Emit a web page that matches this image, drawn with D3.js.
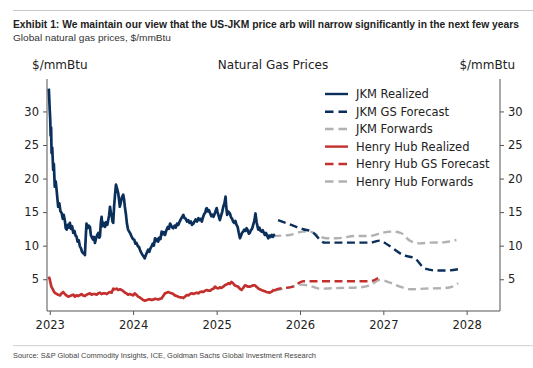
<!DOCTYPE html>
<html><head><meta charset="utf-8">
<script src="https://cdn.jsdelivr.net/npm/d3@7"></script>
<style>
html,body{margin:0;padding:0;background:#fff;}
svg{display:block;}
.narrow{font-family:"Liberation Sans Narrow","Arial Narrow",sans-serif;}
.dj{font-family:"DejaVu Sans",sans-serif;}
</style></head><body>
<svg id="c" width="533" height="368"></svg>
<script>
// ---------- data ----------
const jkmRealized = [
["2022-12-28",33.4],["2023-01-01",30.2],["2023-01-03",28.9],["2023-01-05",26.4],["2023-01-07",27.6],["2023-01-09",23.8],["2023-01-12",24.6],
["2023-01-16",21.3],["2023-01-19",22.2],["2023-01-23",18.8],["2023-01-27",19.6],["2023-01-31",18.3],["2023-02-03",17.2],["2023-02-07",15.8],
["2023-02-12",16.3],["2023-02-17",15.1],["2023-02-22",14.9],["2023-02-27",14.0],["2023-03-03",14.6],["2023-03-08",13.8],["2023-03-12",12.6],
["2023-03-16",12.4],["2023-03-21",13.1],["2023-03-25",12.7],["2023-03-30",13.4],["2023-04-04",12.5],["2023-04-09",12.9],["2023-04-14",11.9],
["2023-04-19",12.2],["2023-04-24",11.5],["2023-04-28",11.4],["2023-05-03",10.6],["2023-05-08",10.8],["2023-05-13",9.9],["2023-05-18",9.6],
["2023-05-22",9.1],["2023-05-27",8.9],["2023-06-01",8.8],["2023-06-04",8.6],["2023-06-08",11.5],["2023-06-11",13.3],["2023-06-15",12.6],
["2023-06-20",13.0],["2023-06-26",12.8],["2023-06-30",11.6],["2023-07-05",11.2],["2023-07-10",10.9],["2023-07-14",11.3],["2023-07-18",10.4],
["2023-07-23",11.1],["2023-07-28",11.6],["2023-08-02",11.9],["2023-08-06",11.2],["2023-08-09",11.4],["2023-08-13",13.5],["2023-08-16",14.3],
["2023-08-20",12.9],["2023-08-25",13.4],["2023-08-31",12.8],["2023-09-05",13.5],["2023-09-10",13.1],["2023-09-14",13.8],["2023-09-18",14.5],
["2023-09-22",15.8],["2023-09-26",14.8],["2023-09-29",14.6],["2023-10-03",13.6],["2023-10-06",13.4],["2023-10-10",15.9],["2023-10-14",17.6],
["2023-10-18",19.1],["2023-10-22",18.6],["2023-10-28",17.8],["2023-11-01",16.7],["2023-11-04",15.8],["2023-11-08",16.4],["2023-11-13",17.2],
["2023-11-19",17.6],["2023-11-23",16.8],["2023-11-26",15.8],["2023-12-01",14.6],["2023-12-05",13.3],["2023-12-10",12.4],["2023-12-15",12.1],
["2023-12-20",11.8],["2023-12-25",11.4],["2023-12-31",11.0],["2024-01-06",10.9],["2024-01-11",10.3],["2024-01-16",10.4],["2024-01-22",9.9],
["2024-01-27",9.8],["2024-01-31",9.4],["2024-02-05",9.0],["2024-02-10",8.7],["2024-02-16",8.4],["2024-02-21",8.1],["2024-02-26",8.6],
["2024-03-02",9.0],["2024-03-07",9.4],["2024-03-12",9.1],["2024-03-17",9.6],["2024-03-22",9.9],["2024-03-27",10.3],["2024-04-01",10.0],
["2024-04-06",11.1],["2024-04-11",10.7],["2024-04-16",11.0],["2024-04-20",10.6],["2024-04-25",11.2],["2024-04-30",11.0],["2024-05-05",12.1],
["2024-05-10",11.7],["2024-05-15",12.0],["2024-05-20",11.6],["2024-05-26",12.3],["2024-06-01",12.8],["2024-06-06",12.5],["2024-06-11",13.3],
["2024-06-16",13.0],["2024-06-21",12.7],["2024-06-25",12.6],["2024-07-01",13.0],["2024-07-06",12.7],["2024-07-12",13.3],["2024-07-17",13.1],
["2024-07-23",13.6],["2024-07-29",14.0],["2024-08-03",14.3],["2024-08-08",14.6],["2024-08-13",14.1],["2024-08-19",14.0],["2024-08-24",13.6],
["2024-08-30",13.8],["2024-09-04",13.4],["2024-09-10",13.6],["2024-09-15",13.1],["2024-09-21",13.3],["2024-09-26",13.6],["2024-10-01",13.9],
["2024-10-07",13.6],["2024-10-13",14.1],["2024-10-18",13.8],["2024-10-23",14.0],["2024-10-28",13.6],["2024-11-02",14.2],["2024-11-07",14.7],
["2024-11-12",14.9],["2024-11-16",15.5],["2024-11-19",15.6],["2024-11-23",15.1],["2024-11-28",15.3],["2024-12-04",14.8],["2024-12-09",14.4],
["2024-12-14",14.6],["2024-12-18",14.3],["2024-12-23",14.7],["2024-12-28",15.2],["2025-01-01",15.6],["2025-01-05",15.0],["2025-01-10",14.4],
["2025-01-15",13.8],["2025-01-20",14.4],["2025-01-25",15.0],["2025-01-30",15.8],["2025-02-04",16.3],["2025-02-09",17.3],["2025-02-12",15.8],
["2025-02-16",14.6],["2025-02-21",15.1],["2025-02-25",14.9],["2025-02-28",14.8],["2025-03-05",14.2],["2025-03-10",14.0],["2025-03-14",13.6],
["2025-03-19",13.4],["2025-03-24",13.7],["2025-03-29",13.1],["2025-04-03",12.8],["2025-04-08",11.9],["2025-04-13",11.1],["2025-04-17",11.4],
["2025-04-22",11.9],["2025-04-27",12.1],["2025-05-02",12.4],["2025-05-07",12.2],["2025-05-12",12.6],["2025-05-17",12.3],["2025-05-22",11.8],
["2025-05-26",11.9],["2025-05-31",12.3],["2025-06-05",12.5],["2025-06-10",13.1],["2025-06-15",13.7],["2025-06-20",14.8],["2025-06-25",13.5],
["2025-07-02",12.4],["2025-07-07",12.7],["2025-07-12",12.2],["2025-07-17",12.1],["2025-07-22",12.3],["2025-07-27",11.9],["2025-07-31",11.6],
["2025-08-05",11.9],["2025-08-10",11.5],["2025-08-15",11.1],["2025-08-20",11.5],["2025-08-25",11.3],["2025-08-30",11.6],["2025-09-04",11.3],
["2025-09-09",11.6],["2025-09-13",11.7]
];
const hhRealized = [
["2022-12-28",5.4],["2023-01-01",5.0],["2023-01-04",4.5],["2023-01-08",3.9],["2023-01-13",3.6],["2023-01-20",3.1],["2023-01-27",2.9],
["2023-02-07",2.7],["2023-02-15",2.6],["2023-02-22",2.9],["2023-03-01",3.1],["2023-03-08",2.8],["2023-03-15",2.6],["2023-03-23",2.4],
["2023-03-31",2.5],["2023-04-07",2.6],["2023-04-14",2.7],["2023-04-21",2.4],["2023-04-28",2.6],["2023-05-05",2.5],["2023-05-12",2.6],
["2023-05-20",2.8],["2023-05-27",2.6],["2023-06-04",2.5],["2023-06-11",2.7],["2023-06-18",2.8],["2023-06-26",2.9],["2023-07-03",2.7],
["2023-07-10",2.8],["2023-07-18",2.8],["2023-07-25",2.7],["2023-08-02",2.9],["2023-08-09",3.0],["2023-08-16",2.8],["2023-08-24",2.9],
["2023-08-31",2.9],["2023-09-08",2.8],["2023-09-15",3.0],["2023-09-22",3.1],["2023-09-29",3.0],["2023-10-06",3.6],["2023-10-13",3.5],
["2023-10-21",3.6],["2023-10-28",3.4],["2023-11-05",3.5],["2023-11-12",3.4],["2023-11-20",3.2],["2023-11-27",3.0],["2023-12-03",2.9],
["2023-12-10",2.7],["2023-12-18",2.8],["2023-12-25",2.7],["2024-01-01",2.6],["2024-01-08",2.9],["2024-01-15",2.7],["2024-01-23",2.4],
["2024-01-30",2.3],["2024-02-07",2.1],["2024-02-14",1.9],["2024-02-22",1.8],["2024-03-01",1.9],["2024-03-08",2.0],["2024-03-15",2.0],
["2024-03-23",1.9],["2024-03-31",2.0],["2024-04-07",2.1],["2024-04-13",2.05],["2024-04-21",2.0],["2024-04-28",2.1],["2024-05-05",2.15],
["2024-05-12",2.5],["2024-05-20",2.9],["2024-05-27",3.0],["2024-06-03",3.1],["2024-06-10",3.0],["2024-06-18",2.9],["2024-06-25",2.8],
["2024-07-02",2.6],["2024-07-10",2.5],["2024-07-17",2.4],["2024-07-24",2.3],["2024-08-01",2.3],["2024-08-08",2.2],["2024-08-15",2.4],
["2024-08-23",2.65],["2024-08-30",2.6],["2024-09-07",2.8],["2024-09-14",2.9],["2024-09-21",2.8],["2024-09-29",2.9],["2024-10-06",3.0],
["2024-10-13",2.9],["2024-10-20",3.1],["2024-10-28",3.15],["2024-11-04",3.1],["2024-11-11",3.3],["2024-11-19",3.4],["2024-11-26",3.3],
["2024-12-04",3.3],["2024-12-11",3.5],["2024-12-18",3.6],["2024-12-25",3.9],["2025-01-01",3.7],["2025-01-08",3.65],["2025-01-15",3.8],
["2025-01-22",3.7],["2025-01-30",3.9],["2025-02-06",4.1],["2025-02-13",4.2],["2025-02-21",4.4],["2025-02-28",4.3],["2025-03-07",4.6],
["2025-03-14",4.4],["2025-03-21",4.1],["2025-03-28",4.0],["2025-04-05",3.9],["2025-04-12",3.6],["2025-04-20",3.4],["2025-04-27",3.7],
["2025-05-05",4.1],["2025-05-12",4.0],["2025-05-19",3.9],["2025-05-26",3.9],["2025-06-03",4.0],["2025-06-10",4.1],["2025-06-17",4.1],
["2025-06-24",3.9],["2025-07-02",3.65],["2025-07-09",3.5],["2025-07-16",3.4],["2025-07-24",3.3],["2025-07-31",3.2],["2025-08-07",3.1],
["2025-08-15",3.05],["2025-08-22",3.0],["2025-08-30",3.15],["2025-09-05",3.3],["2025-09-09",3.5]
];
const jkmForecast = [
["2025-09-27",13.8],["2025-11-24",13.1],["2026-01-15",12.45],["2026-02-21",12.1],["2026-04-20",10.45],["2026-11-03",10.45],
["2026-12-17",10.75],["2027-01-22",10.1],["2027-03-29",8.6],["2027-05-19",8.1],["2027-07-02",6.6],["2027-08-22",6.3],
["2027-10-05",6.3],["2027-11-25",6.5]
];
const jkmForwards = [
["2025-09-06",11.45],["2025-11-17",11.6],["2026-01-15",12.1],["2026-02-14",12.1],["2026-03-29",11.35],["2026-04-27",11.1],
["2026-06-10",11.1],["2026-09-06",11.45],["2026-11-03",11.45],["2026-12-31",11.95],["2027-02-13",12.1],["2027-03-21",11.85],
["2027-04-27",10.75],["2027-06-10",10.35],["2027-07-23",10.45],["2027-09-20",10.5],["2027-11-17",10.85]
];
const hhForecast = [
["2025-09-09",3.3],["2025-09-20",3.5],["2025-12-01",3.9],["2026-01-15",4.7],["2026-11-03",4.7],["2026-12-09",5.2]
];
const hhForwards = [
["2025-09-13",3.3],["2025-11-17",3.8],["2026-01-09",4.2],["2026-02-14",4.0],["2026-03-29",3.6],["2026-06-24",3.7],
["2026-09-20",3.8],["2026-11-03",4.1],["2026-12-17",4.9],["2027-01-30",4.5],["2027-03-15",3.9],["2027-04-27",3.5],
["2027-07-02",3.6],["2027-09-28",3.7],["2027-10-30",3.9],["2027-11-25",4.4]
];
const yTicks = [5,10,15,20,25,30];
const xTickYears = ["2023","2024","2025","2026","2027","2028"];
const legendLabels = ["JKM Realized","JKM GS Forecast","JKM Forwards","Henry Hub Realized","Henry Hub GS Forecast","Henry Hub Forwards"];

// ---------- drawing ----------
const parse = d3.timeParse("%Y-%m-%d");
const navy = "#0b2f5b", red = "#c3302e", grey = "#b1b1b1";
const svg = d3.select("#c");
const L = 47, R = 500, T = 79, B = 311;

const x = d3.scaleTime().domain([parse("2022-12-20"), parse("2028-05-26")]).range([L, R]);
const y = d3.scaleLinear().domain([0.27, 34.83]).range([B, T]);

// header / footer
svg.append("line").attr("x1",13).attr("x2",533).attr("y1",10.5).attr("y2",10.5).attr("stroke","#c8c8c8").attr("stroke-width",1.2);
svg.append("text").attr("class","narrow").attr("x",13).attr("y",27.5).attr("font-size",10).attr("font-weight","bold").attr("fill","#222")
  .attr("textLength",506).attr("lengthAdjust","spacingAndGlyphs")
  .text("Exhibit 1: We maintain our view that the US-JKM price arb will narrow significantly in the next few years");
svg.append("text").attr("class","narrow").attr("x",13).attr("y",41).attr("font-size",9.5).attr("fill","#333")
  .attr("textLength",158).attr("lengthAdjust","spacingAndGlyphs")
  .text("Global natural gas prices, $/mmBtu");
svg.append("line").attr("x1",13).attr("x2",533).attr("y1",345.7).attr("y2",345.7).attr("stroke","#d0d0d0").attr("stroke-width",1);
svg.append("text").attr("class","narrow").attr("x",13).attr("y",357.5).attr("font-size",7.6).attr("fill","#444")
  .attr("textLength",303).attr("lengthAdjust","spacingAndGlyphs")
  .text("Source: S&P Global Commodity Insights, ICE, Goldman Sachs Global Investment Research");

// axes
const axisColor = "#555";
const gx = svg.append("g").attr("transform",`translate(0,${B})`)
  .call(d3.axisBottom(x).tickValues(xTickYears.map(s=>parse(s+"-01-01"))).tickFormat(d3.timeFormat("%Y")).tickSize(4).tickPadding(4));
const gl = svg.append("g").attr("transform",`translate(${L},0)`)
  .call(d3.axisLeft(y).tickValues(yTicks).tickSize(4).tickPadding(4));
const gr = svg.append("g").attr("transform",`translate(${R},0)`)
  .call(d3.axisRight(y).tickValues(yTicks).tickSize(4).tickPadding(4));
[gx,gl,gr].forEach(g=>{
  g.select(".domain").remove();
  g.selectAll(".tick line").attr("stroke",axisColor);
  g.selectAll(".tick text").attr("font-family","DejaVu Sans, sans-serif").attr("font-size",11.5).attr("fill","#222");
});
gx.selectAll(".tick text").attr("dy","0.9em");
svg.append("path").attr("d",`M${L},${T}V${B}H${R}V${T}`).attr("fill","none").attr("stroke",axisColor).attr("stroke-width",1);

// axis titles
svg.append("text").attr("class","dj").attr("x",32).attr("y",68.5).attr("font-size",12).attr("fill","#222").text("$/mmBtu");
svg.append("text").attr("class","dj").attr("x",515).attr("y",68.5).attr("font-size",12).attr("fill","#222").attr("text-anchor","end").text("$/mmBtu");
svg.append("text").attr("class","dj").attr("x",273).attr("y",68.5).attr("font-size",12).attr("fill","#222").attr("text-anchor","middle").text("Natural Gas Prices");

// lines
const line = d3.line().x(d=>x(parse(d[0]))).y(d=>y(d[1])).curve(d3.curveMonotoneX);
const lineRaw = d3.line().x(d=>x(parse(d[0]))).y(d=>y(d[1]));
const dash = "8,4.5";
function draw(data, color, dashed, gen){
  svg.append("path").datum(data).attr("d",gen).attr("fill","none").attr("stroke",color)
    .attr("stroke-width",dashed?2.4:2.7).attr("stroke-linejoin","round")
    .attr("stroke-dasharray",dashed?dash:null);
}
draw(hhForwards, grey, true, line);
draw(jkmForwards, grey, true, line);
draw(hhForecast, red, true, line);
draw(jkmForecast, navy, true, line);
draw(hhRealized, red, false, lineRaw);
draw(jkmRealized, navy, false, lineRaw);

// legend
const legColors = [navy,navy,grey,red,red,grey];
const legDashed = [false,true,true,false,true,true];
const legY = [94,111.7,129,146.6,164,181.5];
legendLabels.forEach((lab,i)=>{
  svg.append("line").attr("x1",325).attr("x2",348).attr("y1",legY[i]).attr("y2",legY[i])
    .attr("stroke",legColors[i]).attr("stroke-width",2.4).attr("stroke-dasharray",legDashed[i]?"8.5,5":null);
  svg.append("text").attr("class","dj").attr("x",356).attr("y",legY[i]).attr("dy","0.36em")
    .attr("font-size",11.5).attr("fill","#222").text(lab);
});
</script>
</body></html>
